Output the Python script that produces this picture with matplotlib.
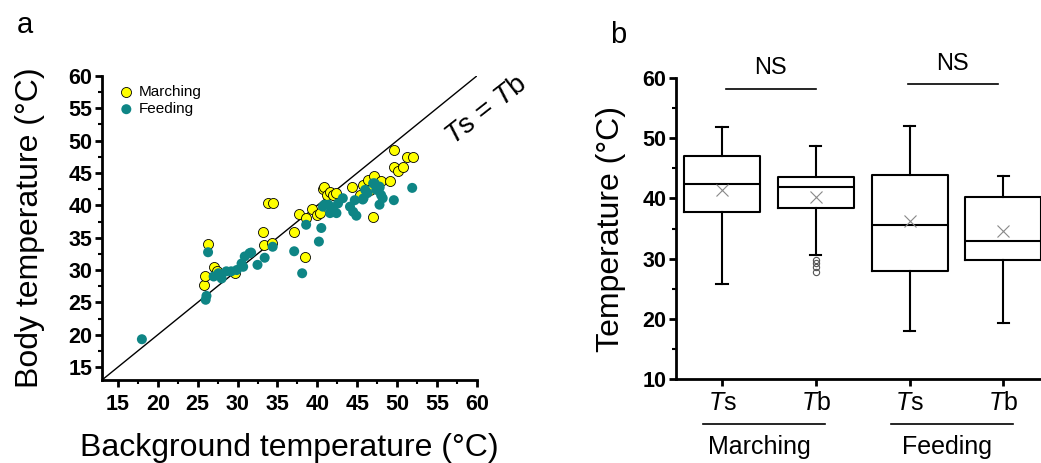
import numpy as np
import matplotlib
matplotlib.use('Agg')
import matplotlib.pyplot as plt

plt.rcParams['font.family'] = ['Liberation Sans', 'DejaVu Sans']
plt.rcParams['mathtext.fontset'] = 'custom'
plt.rcParams['mathtext.it'] = 'Liberation Sans:italic'
plt.rcParams['mathtext.rm'] = 'Liberation Sans'

# panel a: background (x) vs body (y) temperature
march_x = [25.8, 25.9, 26.3, 27.1, 27.4, 29.7, 33.2, 33.3, 34.3, 33.8, 34.4, 37.1,
           37.7, 38.4, 38.6, 39.3, 39.9, 40.4, 40.7, 40.9, 41.2, 41.6, 42.0, 42.4,
           44.3, 45.3, 45.7, 46.4, 47.1, 46.6, 48.0, 49.1, 47.0, 49.6, 49.6, 50.1,
           50.8, 51.3, 52.0]
march_y = [27.7, 29.0, 34.1, 30.5, 29.8, 29.5, 35.9, 33.8, 34.2, 40.4, 40.4, 35.9,
           38.7, 32.0, 38.0, 39.5, 38.5, 38.8, 42.6, 42.8, 41.6, 42.1, 41.6, 41.9,
           42.9, 41.6, 43.2, 43.9, 44.6, 42.4, 43.7, 43.8, 38.2, 48.5, 46.0, 45.3,
           46.0, 47.4, 47.5]

feed_x = [18.0, 26.1, 26.0, 26.3, 27.0, 27.6, 28.0, 28.6, 29.2, 29.9, 30.5, 30.9,
          30.7, 31.5, 31.7, 32.5, 33.4, 34.4, 37.1, 38.1, 38.6, 40.2, 40.5, 40.7,
          40.9, 41.4, 41.6, 42.0, 42.4, 41.9, 42.6, 43.2, 44.1, 44.5, 44.9, 44.7,
          45.7, 45.8, 46.0, 47.0, 47.2, 47.8, 48.0, 48.2, 47.8, 49.6, 51.9, 46.3,
          47.4, 47.8]
feed_y = [19.3, 26.0, 25.4, 32.75, 29.0, 29.5, 28.7, 29.8, 29.8, 30.0, 31.0, 32.1,
          30.5, 32.6, 32.7, 30.8, 31.9, 33.6, 32.9, 29.5, 37.0, 34.4, 36.5, 39.8,
          40.1, 40.1, 38.8, 39.5, 38.8, 39.6, 40.3, 41.1, 39.8, 39.0, 38.4, 40.8,
          40.9, 41.1, 42.4, 43.4, 43.4, 42.9, 41.6, 41.1, 40.1, 40.8, 42.7, 41.9,
          42.4, 42.7]

# panel b: box statistics
box_labels = ['Ts', 'Tb', 'Ts', 'Tb']
box_whislo = [25.8, 30.65, 17.9, 19.35]
box_q1 = [37.7, 38.35, 27.95, 29.8]
box_med = [42.4, 41.9, 35.6, 33.0]
box_q3 = [47.0, 43.55, 43.95, 40.3]
box_whishi = [51.9, 48.7, 52.0, 43.8]
box_mean = [41.4, 40.2, 36.25, 34.6]
box_fliers = [[], [29.8, 29.3, 28.6, 27.8], [], []]
groups = ['Marching', 'Feeding']

fig = plt.figure(figsize=(10.41, 4.63), dpi=100)

# ---- panel a
ax = fig.add_axes([0.098, 0.1793, 0.360, 0.6566])
ax.plot([13, 60], [13, 60], color='black', lw=1.0, zorder=1)
ax.scatter(march_x, march_y, s=52, color='#ffff00', edgecolor='black',
           linewidth=0.6, label='Marching', zorder=2)
ax.scatter(feed_x, feed_y, s=52, color='#0e8585', edgecolor='none',
           label='Feeding', zorder=3)
ax.set_xlim(13, 60)
ax.set_ylim(13, 60)
ax.set_xticks(np.arange(15, 61, 5))
ax.set_yticks(np.arange(15, 61, 5))
ax.set_xticks(np.arange(17.5, 60, 5), minor=True)
ax.set_yticks(np.arange(17.5, 60, 5), minor=True)
for s in ['top', 'right']:
    ax.spines[s].set_visible(False)
for s in ['left', 'bottom']:
    ax.spines[s].set_linewidth(2)
ax.tick_params(which='major', length=5, width=2, labelsize=15.5, pad=2)
ax.tick_params(axis='x', which='major', pad=5)
ax.tick_params(which='minor', length=3, width=1.5)
for t in ax.get_xticklabels() + ax.get_yticklabels():
    t.set_fontweight('bold')
ax.set_xlabel('Background temperature (°C)', fontsize=23, labelpad=13)
ax.set_ylabel('Body temperature (°C)', fontsize=23, labelpad=17)
ax.legend(loc='upper left', frameon=False, fontsize=11, handletextpad=0.3,
          borderaxespad=0.2, labelspacing=0.2, handlelength=1.0,
          bbox_to_anchor=(0.02, 1.0))
ax.text(61.2, 54.6, r'$\mathit{T}$s = $\mathit{T}$b', rotation=38, fontsize=20,
        ha='center', va='center', clip_on=False)
fig.text(0.024, 0.945, 'a', fontsize=21, ha='center', va='center')

# ---- panel b
bx = fig.add_axes([0.6494, 0.1814, 0.3506, 0.650])
stats = []
for i in range(4):
    stats.append(dict(whislo=box_whislo[i], q1=box_q1[i], med=box_med[i],
                      q3=box_q3[i], whishi=box_whishi[i], mean=box_mean[i],
                      fliers=box_fliers[i]))
pos = [1, 2, 3, 4]
bx.bxp(stats, positions=pos, widths=0.81, showmeans=True,
       boxprops=dict(color='black', lw=1.5),
       medianprops=dict(color='black', lw=1.5),
       whiskerprops=dict(color='black', lw=1.5),
       capprops=dict(color='black', lw=1.5),
       capwidths=0.12,
       flierprops=dict(marker='o', markersize=4.5, markerfacecolor='none',
                       markeredgecolor='#555555', markeredgewidth=0.8),
       meanprops=dict(marker='x', markersize=8, markeredgecolor='#888888',
                      markeredgewidth=0.8))
bx.set_xlim(0.51, 4.40)
bx.set_ylim(10, 60)
bx.set_yticks(np.arange(10, 61, 10))
bx.set_yticks(np.arange(15, 60, 10), minor=True)
bx.set_xticks(pos)
bx.set_xticklabels([r'$\mathit{T}$' + l[1] for l in box_labels], fontsize=18)
for s in ['top', 'right']:
    bx.spines[s].set_visible(False)
for s in ['left', 'bottom']:
    bx.spines[s].set_linewidth(2)
bx.tick_params(which='major', length=5, width=2)
bx.tick_params(axis='y', which='major', labelsize=15.5, pad=2)
bx.tick_params(which='minor', length=3, width=1.5)
for t in bx.get_yticklabels():
    t.set_fontweight('bold')
bx.set_ylabel('Temperature (°C)', fontsize=23, labelpad=12)

# group lines and labels under the x axis
for k, g in enumerate(groups):
    x0, x1 = pos[2 * k] - 0.2, pos[2 * k + 1] + 0.1
    bx.plot([x0, x1], [-0.149, -0.149], transform=bx.get_xaxis_transform(),
            color='black', lw=1.2, clip_on=False)
    bx.text((pos[2 * k] + pos[2 * k + 1]) / 2 - 0.1, -0.225, g, fontsize=18,
            ha='center', va='center', transform=bx.get_xaxis_transform())

# NS brackets
bx.plot([1.04, 2.0], [58.2, 58.2], color='black', lw=1.2, clip_on=False)
bx.text(1.52, 61.7, 'NS', fontsize=17, ha='center', va='center')
bx.plot([2.98, 3.94], [59.0, 59.0], color='black', lw=1.2, clip_on=False)
bx.text(3.46, 62.3, 'NS', fontsize=17, ha='center', va='center')
fig.text(0.594, 0.925, 'b', fontsize=21, ha='center', va='center')

fig.savefig('out.png', dpi=100)
